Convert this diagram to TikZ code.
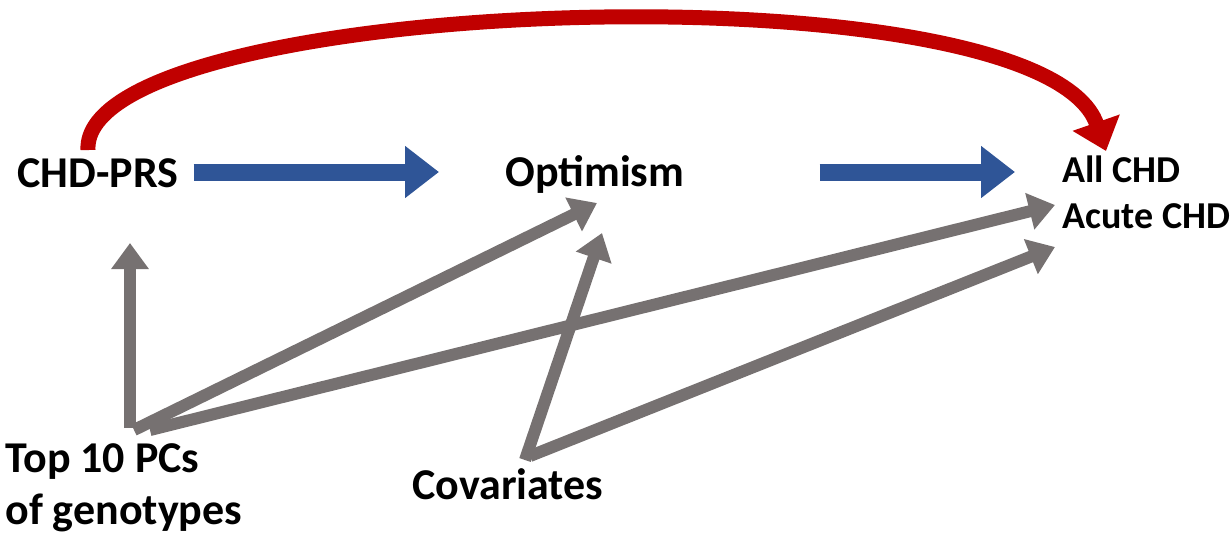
\documentclass[tikz,border=0pt]{standalone}
\usepackage{fontspec}
\setmainfont{Carlito}
\usetikzlibrary{arrows.meta,calc}
\definecolor{PathGray}{HTML}{767171}
\definecolor{PathBlue}{HTML}{2F5597}
\definecolor{PathRed}{HTML}{C00000}
\tikzset{lab/.style={inner sep=0pt,anchor=base west,font=\bfseries\fontsize{22}{26}\selectfont},
 outlab/.style={lab,font=\bfseries\fontsize{19}{23}\selectfont},
 grayarr/.style={draw=PathGray,line width=6pt,-{Triangle[length=13pt,width=18pt]}},
 bluearr/.style={draw=PathBlue,line width=8.5pt,-{Triangle[length=17pt,width=25pt]}},
 redarr/.style={draw=PathRed,line width=7.5pt,-{Triangle[length=15pt,width=24pt]}}}
\begin{document}
\begin{tikzpicture}[x=.5pt,y=-.5pt]
\useasboundingbox (0,0) rectangle (1232,536);
% variables
\node[lab] (prs) at (17,187) {CHD-PRS};
\node[lab] (opt) at (505,186) {Optimism};
\node[outlab] (allchd) at (1062,182) {All CHD};
\node[outlab] (acute) at (1062,228) {Acute CHD};
\node[lab] (pcs) at (5,472) {Top 10 PCs};
\node[lab] (pcsgen) at (5,524) {of genotypes};
\node[lab] (cov) at (412,499) {Covariates};
% main paths
\draw[redarr] ($(prs.base west)+(71,-37)$) .. controls +(-8,-155) and +(-66,-190) .. ($(allchd.base west)+(44,-31)$);
\draw[bluearr] ($(prs.base east)+(15,-15)$) -- ($(opt.base west)+(-66,-14)$);
\draw[bluearr] ($(opt.base east)+(135,-14)$) -- ($(allchd.base west)+(-47,-10)$);
% confounders
\draw[grayarr] ($(pcs.base west)+(125,-44)$) -- ($(prs.base west)+(113,56)$);
\draw[grayarr] ($(pcs.base west)+(129,-42)$) -- ($(opt.base west)+(92,17)$);
\draw[grayarr] ($(pcs.base west)+(145,-42)$) -- ($(acute.base west)+(-7,-23)$);
\draw[grayarr] ($(cov.base west)+(113,-39)$) -- ($(opt.base west)+(97,47)$);
\draw[grayarr] ($(cov.base west)+(118,-43)$) -- ($(acute.base west)+(-7,19)$);
\end{tikzpicture}
\end{document}
